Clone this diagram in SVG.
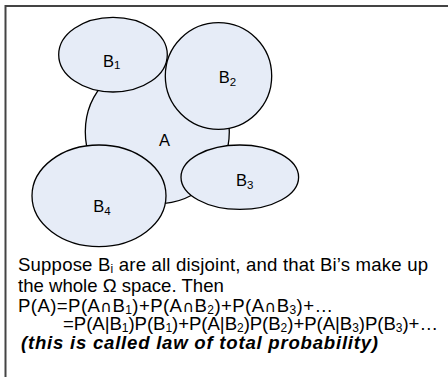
<svg xmlns="http://www.w3.org/2000/svg" width="448" height="377" viewBox="0 0 448 377">
<style>
.sh{fill:#e6ecf7;stroke:#000;stroke-width:1.3}
.lb{font-family:"Liberation Sans",Arial,sans-serif;font-size:16.5px;fill:#000}
.tx{font-family:"Liberation Sans",Arial,sans-serif;font-size:18.6px;fill:#000}
.it{font-style:italic;font-weight:bold}
.cap{font-family:"DejaVu Sans",sans-serif;font-size:16px}
</style>
<rect width="448" height="377" fill="#fff"/>
<g id="frame">
<line x1="5.5" y1="5" x2="5.5" y2="377" stroke="#444" stroke-width="2"/>
<line x1="5" y1="6" x2="448" y2="6" stroke="#444" stroke-width="2"/>
</g>
<g id="A"><circle class="sh" cx="157.3" cy="131.7" r="72"/><text class="lb" x="159" y="146">A</text></g>
<g id="B1"><ellipse class="sh" cx="113" cy="54.7" rx="54.3" ry="37.3"/><text class="lb" x="103" y="66.7">B<tspan font-size="11.5" dy="2.5">1</tspan></text></g>
<g id="B2"><ellipse class="sh" cx="218.5" cy="76" rx="53.2" ry="53.3"/><text class="lb" x="218.7" y="83.3">B<tspan font-size="11.5" dy="2.5">2</tspan></text></g>
<g id="B3"><ellipse class="sh" cx="239.8" cy="177.2" rx="58.8" ry="32.2"/><text class="lb" x="236" y="186">B<tspan font-size="11.5" dy="2.5">3</tspan></text></g>
<g id="B4"><ellipse class="sh" cx="99" cy="195.8" rx="67" ry="50.8"/><text class="lb" x="93.3" y="212.3">B<tspan font-size="11.5" dy="2.5">4</tspan></text></g>
<g id="connectors"/>
<g id="caption">
<text class="tx" x="18" y="271" textLength="410" lengthAdjust="spacing">Suppose B<tspan font-size="12" dy="2">i</tspan><tspan dy="-2"> are all disjoint, and that Bi’s make up</tspan></text>
<text class="tx" x="18" y="291.5">the whole Ω space. Then</text>
<text class="tx" x="18" y="311.5" textLength="315" lengthAdjust="spacing">P(A)=P(A<tspan class="cap">∩</tspan>B<tspan font-size="12" dy="2">1</tspan><tspan dy="-2">)+P(A</tspan><tspan class="cap">∩</tspan>B<tspan font-size="12" dy="2">2</tspan><tspan dy="-2">)+P(A</tspan><tspan class="cap">∩</tspan>B<tspan font-size="12" dy="2">3</tspan><tspan dy="-2">)+…</tspan></text>
<text class="tx" x="63" y="330" textLength="375" lengthAdjust="spacing">=P(A|B<tspan font-size="12" dy="2">1</tspan><tspan dy="-2">)P(B</tspan><tspan font-size="12" dy="2">1</tspan><tspan dy="-2">)+P(A|B</tspan><tspan font-size="12" dy="2">2</tspan><tspan dy="-2">)P(B</tspan><tspan font-size="12" dy="2">2</tspan><tspan dy="-2">)+P(A|B</tspan><tspan font-size="12" dy="2">3</tspan><tspan dy="-2">)P(B</tspan><tspan font-size="12" dy="2">3</tspan><tspan dy="-2">)+…</tspan></text>
<text class="tx it" x="21" y="348.5" textLength="357" lengthAdjust="spacing">(this is called law of total probability)</text>
</g>
</svg>
